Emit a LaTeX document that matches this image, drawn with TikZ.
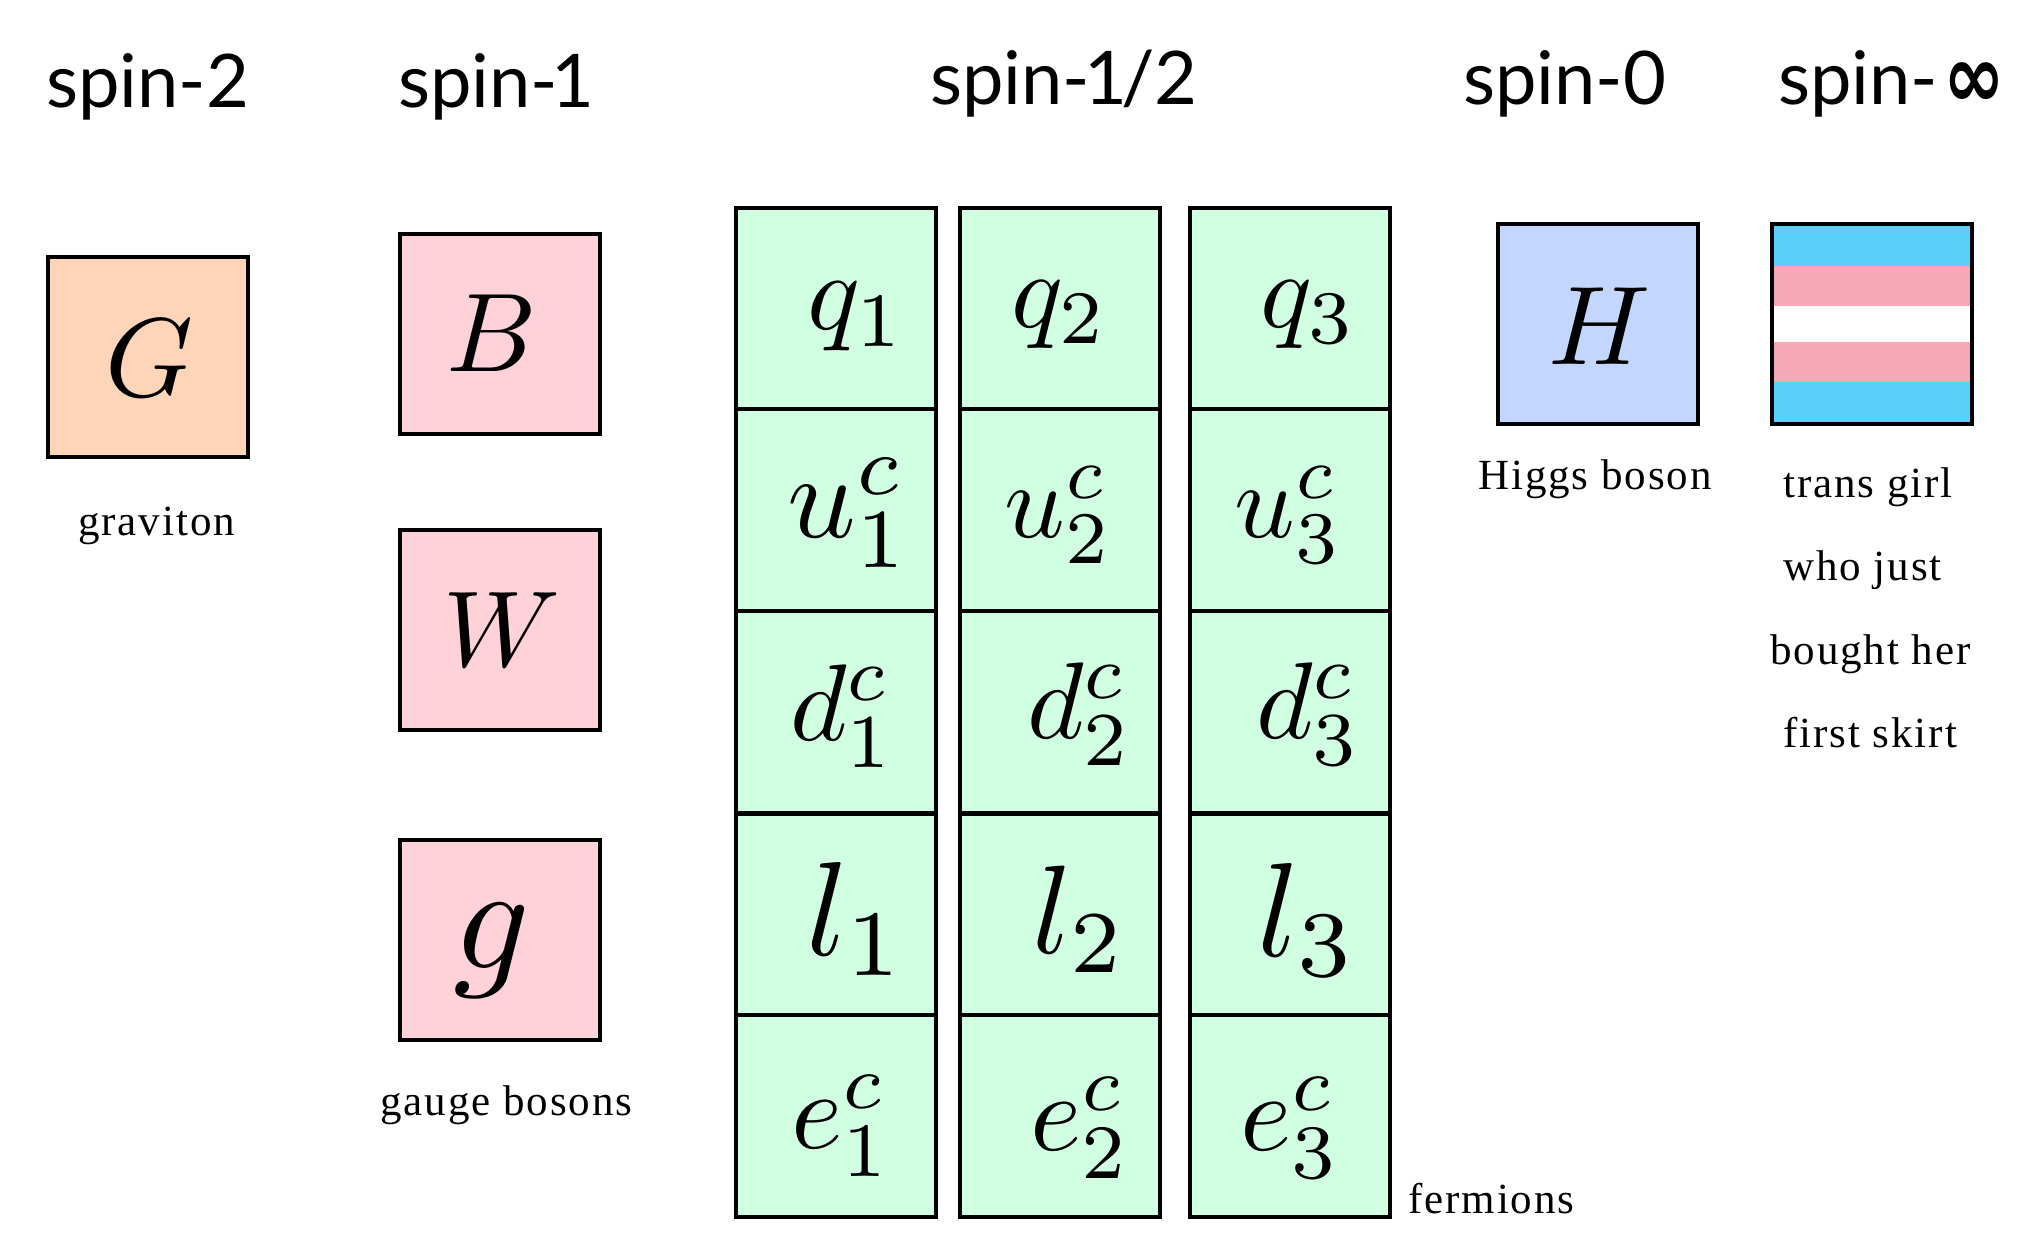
\documentclass[tikz,border=0pt]{standalone}
\usepackage{fontspec}
\setmainfont{Liberation Serif}
\newfontfamily\headfont{Lato}
\newfontfamily\inffont{DejaVu Sans}
\definecolor{fermgreen}{HTML}{D1FFE2}
\definecolor{gaugepink}{HTML}{FFD1D9}
\definecolor{gravorange}{HTML}{FFD5BA}
\definecolor{higgsblue}{HTML}{C2D6FF}
\definecolor{flagblue}{HTML}{5BCEFA}
\definecolor{flagpink}{HTML}{F5A9B8}
\tikzset{
  cellbox/.style={draw=black,line width=4.4pt,minimum width=200pt,minimum height=200pt,inner sep=0pt,outer sep=0pt},
  fermbox/.style={cellbox,fill=fermgreen,minimum height=201.5pt},
  gaugebox/.style={cellbox,fill=gaugepink},
  head/.style={anchor=base west,inner sep=0pt,font=\headfont\fontsize{74}{84}\selectfont},
  caption/.style={anchor=base west,inner sep=0pt,font=\fontsize{43}{50}\selectfont\addfontfeature{LetterSpace=4.5}},
  sym/.style={anchor=center,inner sep=0pt},
}
\newcommand{\symat}[5]{\node[sym,scale=#4] (#1) at (#2,#3) {$#5$};}
\begin{document}
\begin{tikzpicture}[x=1pt,y=-1pt]
\useasboundingbox (0,0) rectangle (2038,1248);
% headings
\node[head] (h2) at (46,107) {spin-2};
\node[head] (h1) at (398,107) {spin-\kern-7pt 1};
\node[head] (h12) at (930,104) {spin-\kern-6pt 1\kern-6pt /2};
\node[head] (h0) at (1463,104) {spin-0};
\node[head] (hinf) at (1778,104) {spin-\kern5pt{\inffont\bfseries\fontsize{74}{84}\selectfont\raisebox{-3pt}{\scalebox{1}[1.2]{∞}}}};
% boxes left
\node[cellbox,fill=gravorange] (G) at (148,357) {};
\node[gaugebox] (B) at (500,334) {};
\node[gaugebox] (W) at (500,630) {};
\node[gaugebox] (g) at (500,940) {};
\symat{Gs}{150}{358}{11.2}{G}
\symat{Bs}{492}{333}{11.2}{B}
\symat{Ws}{502}{630}{10.8}{W}
\symat{gs}{492}{951}{15}{g}
% fermions
\foreach \n/\x in {1/836,2/1060,3/1290}{
  \foreach \r/\y in {q/309,u/510,d/712,l/915,e/1116}{
    \node[fermbox] (\r\n) at (\x,\y) {};
  }
}
\symat{qa}{857}{317}{11}{q_1}
\symat{qb}{1060}{315}{10.8}{q_2}
\symat{qc}{1309}{315}{10.8}{q_3}
\symat{ua}{849}{513}{12}{u^c_1}
\symat{ub}{1059}{515}{10.6}{u^c_2}
\symat{uc}{1289}{515}{10.6}{u^c_3}
\symat{da}{843}{716}{10.9}{d^c_1}
\symat{db}{1080}{714}{10.9}{d^c_2}
\symat{dc}{1309}{714}{10.9}{d^c_3}
\symat{la}{857}{919}{13.4}{l_1}
\symat{lb}{1080}{919}{12.6}{l_2}
\symat{lc}{1308}{920}{13.4}{l_3}
\symat{ea}{842}{1126}{11}{e^c_1}
\symat{eb}{1081}{1128}{11}{e^c_2}
\symat{ec}{1291}{1128}{11}{e^c_3}
% right
\node[cellbox,fill=higgsblue] (H) at (1598,324) {};
\symat{Hs}{1600}{326}{11.2}{H}
\fill[flagblue] (1772,224) rectangle (1972,424);
\fill[flagpink] (1772,266) rectangle (1972,382);
\fill[white] (1772,306) rectangle (1972,342);
\node[cellbox] (flag) at (1872,324) {};
% captions
\node[caption] (c1) at (78,535) {graviton};
\node[caption] (c2) at (380,1115) {gauge bosons};
\node[caption] (c3) at (1478,489) {Higgs boson};
\node[caption] (c4) at (1783,497) {trans girl};
\node[caption] (c5) at (1783,580) {who just};
\node[caption] (c6) at (1770,664) {bought her};
\node[caption] (c7) at (1783,747) {first skirt};
\node[caption] (c8) at (1408,1213) {fermions};
\end{tikzpicture}
\end{document}
